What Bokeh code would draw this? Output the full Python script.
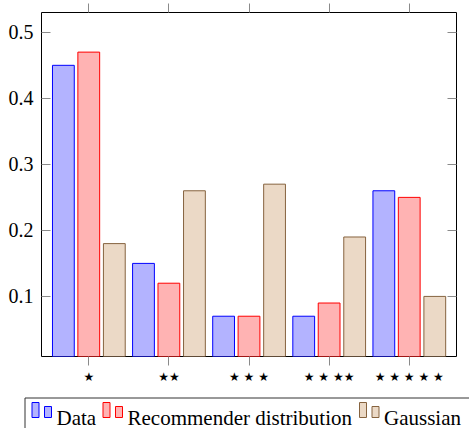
from bokeh.plotting import figure
from bokeh.models import Range1d, FixedTicker, LinearAxis
from bokeh.core.properties import value
from bokeh.embed import file_html
from bokeh.resources import INLINE

# ---- data ----
categories = ["★", "★★", "★ ★ ★", "★ ★ ★★", "★ ★ ★ ★ ★"]
data_vals = [0.45, 0.15, 0.07, 0.07, 0.26]
rec_vals = [0.47, 0.12, 0.07, 0.09, 0.25]
gauss_vals = [0.18, 0.26, 0.27, 0.19, 0.10]
series_names = ["Data", "Recommender distribution", "Gaussian"]
y_ticks = [0.1, 0.2, 0.3, 0.4, 0.5]

# ---- styles ----
fills = ["#b3b3ff", "#ffb3b3", "#ebd9c6"]
lines = ["#0000ff", "#ff0000", "#86633f"]
offsets = [-0.317, 0.0, 0.319]
bar_w = 0.272
serif = "Liberation Serif"
tick_col = "#8a8a8a"

W = 469
p = figure(width=W, height=390, x_range=Range1d(0.41, 5.59), y_range=Range1d(0.009, 0.530),
           output_backend="svg", toolbar_location=None, title=None,
           min_border_left=41, min_border_right=13, min_border_top=12, min_border_bottom=34)
p.grid.visible = False
p.outline_line_color = "black"
p.outline_line_width = 1

xpos = list(range(1, len(categories) + 1))
for vals, fc, lc, off in zip([data_vals, rec_vals, gauss_vals], fills, lines, offsets):
    p.vbar(x=[x + off for x in xpos], top=vals, bottom=0, width=bar_w,
           fill_color=fc, line_color=lc, line_width=1)

# bottom x axis
xa = p.xaxis[0]
xa.ticker = FixedTicker(ticks=xpos)
xa.major_label_overrides = {x: c for x, c in zip(xpos, categories)}
xa.major_label_text_font = "DejaVu Sans"
xa.major_label_text_font_size = "12px"
xa.major_label_text_color = "black"
xa.major_tick_in = 0
xa.major_tick_out = 9
xa.major_tick_line_color = tick_col
xa.minor_tick_line_color = None
xa.axis_line_color = None
xa.major_label_standoff = 4

# left y axis
ya = p.yaxis[0]
ya.ticker = FixedTicker(ticks=y_ticks)
ya.major_label_text_font = serif
ya.major_label_text_font_size = "20px"
ya.major_label_text_color = "black"
ya.major_tick_in = 9
ya.major_tick_out = 0
ya.major_tick_line_color = tick_col
ya.minor_tick_line_color = None
ya.axis_line_color = None
ya.major_label_standoff = 8

# right mirrored ticks
ra = LinearAxis(ticker=FixedTicker(ticks=y_ticks), major_label_overrides={t: "" for t in y_ticks},
                major_label_text_font_size="0px", major_label_standoff=0,
                major_tick_in=9, major_tick_out=0, major_tick_line_color=tick_col,
                minor_tick_line_color=None, axis_line_color=None)
p.add_layout(ra, "right")

# top mirrored ticks
ta = LinearAxis(ticker=FixedTicker(ticks=xpos), major_label_overrides={x: "" for x in xpos},
                major_label_text_font_size="0px", major_label_standoff=0,
                major_tick_in=0, major_tick_out=9, major_tick_line_color=tick_col,
                minor_tick_line_color=None, axis_line_color=None)
p.add_layout(ta, "above")

# ---- legend (separate strip below, own root) ----
H2 = 38
lg = figure(width=W, height=H2, x_range=Range1d(0, W), y_range=Range1d(H2, 0),
            output_backend="svg", toolbar_location=None, title=None,
            x_axis_location=None, y_axis_location=None,
            min_border=0, min_border_left=0, min_border_right=0,
            min_border_top=0, min_border_bottom=0)
lg.grid.visible = False
lg.outline_line_color = None

# legend frame (continues past the right and bottom edges)
lg.quad(left=[24.5], right=[W + 20], top=[7.5], bottom=[H2 + 20],
        fill_color=None, line_color="#333333", line_width=1)

entry_x = [31.5, 102.5, 359.0]
icon_w = 7
gap = 12.5
tall_top, short_top, icon_bot = 12.0, 16.0, 27.0
for ex, fc, lc in zip(entry_x, fills, lines):
    lg.quad(left=[ex, ex + gap], right=[ex + icon_w, ex + gap + icon_w],
            top=[tall_top, short_top], bottom=[icon_bot, icon_bot],
            fill_color=fc, line_color=lc, line_width=1)
lg.text(x=[ex + 24.5 for ex in entry_x], y=[27.0] * 3, text=series_names,
        text_font=value(serif), text_font_size="21px", text_color="black",
        text_baseline="alphabetic", text_align="left")

open("out.html", "w").write(file_html([p, lg], INLINE))
